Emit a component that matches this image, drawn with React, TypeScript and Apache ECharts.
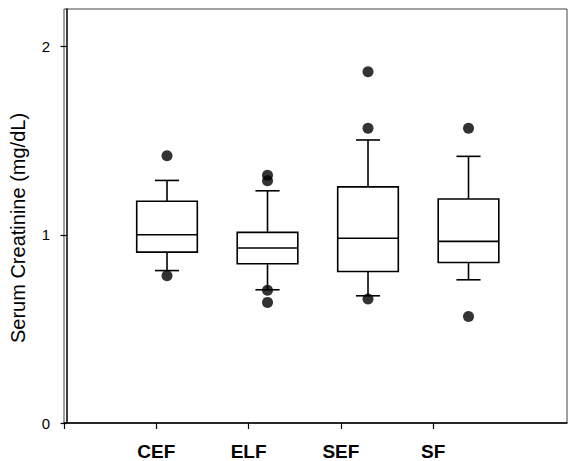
import React, { useEffect, useRef } from "react";
import * as echarts from "echarts";

const categories = ["CEF", "ELF", "SEF", "SF"];
const whiskerLow = [0.81, 0.708, 0.676, 0.761];
const quartile1 = [0.908, 0.846, 0.805, 0.853];
const medians = [1.0, 0.93, 0.982, 0.965];
const quartile3 = [1.178, 1.013, 1.255, 1.19];
const whiskerHigh = [1.289, 1.234, 1.504, 1.417];
const outliers = [
  [1.42, 0.782],
  [1.317, 1.287, 0.705, 0.641],
  [1.867, 1.566, 0.659],
  [1.566, 0.566],
];
const yTicks = [0, 1, 2];

const FONT = "'Liberation Sans', Arial, sans-serif";
const BOX_W = 0.603;
const CAP_W = 0.24;

export default function App() {
  const ref = useRef<HTMLDivElement>(null);
  useEffect(() => {
    if (!ref.current) return;
    const chart = echarts.init(ref.current, null, { renderer: "svg" });
    const boxData = categories.map((_, i) => [
      i + 1,
      whiskerLow[i],
      quartile1[i],
      medians[i],
      quartile3[i],
      whiskerHigh[i],
    ]);
    const outlierData: number[][] = [];
    outliers.forEach((vals, i) => vals.forEach((v) => outlierData.push([i + 1, v])));

    chart.setOption({
      animation: false,
      backgroundColor: "#fff",
      grid: {
        left: 64,
        right: 1,
        top: 9,
        bottom: 37,
        show: true,
        borderColor: "#444",
        borderWidth: 1,
      },
      xAxis: [
        {
          type: "value",
          min: -0.025,
          max: 4.98,
          show: false,
        },
        {
          type: "value",
          min: 0,
          max: 5.45,
          position: "bottom",
          splitLine: { show: false },
          axisLine: { show: true, lineStyle: { color: "#000", width: 1.5 } },
          axisTick: {
            show: true,
            inside: false,
            length: 6,
            lineStyle: { color: "#000", width: 1.2 },
            customValues: [0, 1, 2, 3, 4],
          },
          axisLabel: {
            customValues: [1, 2, 3, 4],
            formatter: (v: number) => categories[Math.round(v) - 1] ?? "",
            margin: 19,
            color: "#000",
            fontFamily: FONT,
            fontWeight: "bold",
            fontSize: 19,
          },
        },
      ],
      yAxis: {
        type: "value",
        min: 0,
        max: 2.2,
        name: "Serum Creatinine (mg/dL)",
        nameLocation: "middle",
        nameGap: 36,
        nameTextStyle: {
          color: "#000",
          fontFamily: FONT,
          fontSize: 20,
          padding: [0, 24, 0, 0],
        },
        splitLine: { show: false },
        axisLine: { show: true, lineStyle: { color: "#000", width: 1.5 } },
        axisTick: {
          show: true,
          inside: false,
          length: 6,
          lineStyle: { color: "#000", width: 1.2 },
          customValues: yTicks,
        },
        axisLabel: {
          customValues: yTicks,
          margin: 14,
          color: "#000",
          fontFamily: FONT,
          fontSize: 15,
        },
      },
      series: [
        {
          type: "custom",
          xAxisIndex: 0,
          data: boxData,
          encode: { x: 0, y: [1, 2, 3, 4, 5] },
          z: 2,
          renderItem: (params: any, api: any) => {
            const x = api.value(0);
            const lo = api.coord([x, api.value(1)]);
            const q1 = api.coord([x, api.value(2)]);
            const med = api.coord([x, api.value(3)]);
            const q3 = api.coord([x, api.value(4)]);
            const hi = api.coord([x, api.value(5)]);
            const cx = lo[0];
            const hb = api.size([BOX_W, 0])[0] / 2;
            const hc = api.size([CAP_W, 0])[0] / 2;
            const st = { stroke: "#000", lineWidth: 1.6, fill: "none" };
            return {
              type: "group",
              children: [
                { type: "line", shape: { x1: cx, y1: q3[1], x2: cx, y2: hi[1] }, style: st },
                { type: "line", shape: { x1: cx - hc, y1: hi[1], x2: cx + hc, y2: hi[1] }, style: st },
                { type: "line", shape: { x1: cx, y1: q1[1], x2: cx, y2: lo[1] }, style: st },
                { type: "line", shape: { x1: cx - hc, y1: lo[1], x2: cx + hc, y2: lo[1] }, style: st },
                {
                  type: "rect",
                  shape: { x: cx - hb, y: q3[1], width: hb * 2, height: q1[1] - q3[1] },
                  style: { stroke: "#000", lineWidth: 1.6, fill: "#fff" },
                },
                { type: "line", shape: { x1: cx - hb, y1: med[1], x2: cx + hb, y2: med[1] }, style: st },
              ],
            };
          },
        },
        {
          type: "scatter",
          xAxisIndex: 0,
          data: outlierData,
          symbol: "circle",
          symbolSize: 11,
          itemStyle: { color: "#000" },
          z: 3,
        },
      ],
    });
    return () => chart.dispose();
  }, []);
  return (
    <div
      ref={ref}
      style={{ position: "fixed", left: 0, top: 0, width: 568, height: 461, background: "#fff" }}
    />
  );
}
